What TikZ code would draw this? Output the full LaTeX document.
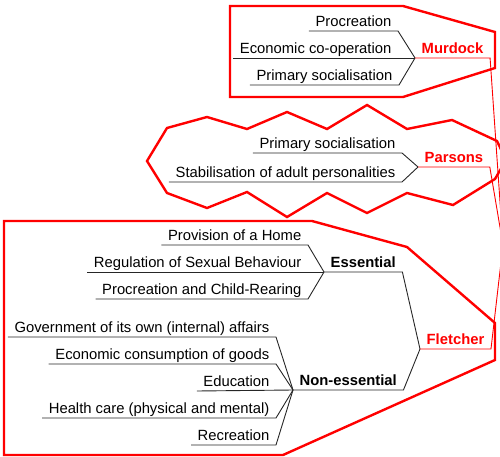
\documentclass[tikz,border=0pt]{standalone}
\usepackage{fontspec}
\setmainfont{Liberation Sans}
\begin{document}
\begin{tikzpicture}[x=1pt,y=-1pt,
  item/.style={anchor=south east,inner xsep=6.5pt,inner ysep=0.5pt,text height=11pt,text depth=3.5pt,font=\fontsize{14.8}{17}\selectfont},
  head/.style={anchor=south west,inner xsep=6.5pt,inner ysep=0.5pt,text height=11pt,text depth=3.5pt,font=\fontsize{14.8}{17}\selectfont\bfseries},
  rhead/.style={head,text=red},
  branch/.style={draw=black!85,line width=0.9pt},
  rbranch/.style={draw=red,line width=0.9pt},
  outline/.style={draw=red,line width=2.4pt,line join=miter}]
\useasboundingbox (0,0) rectangle (500,457);
% outlines
\draw[outline] (230,6) -- (403,6) -- (495,32) -- (495,68) -- (403,97) -- (230,97) -- cycle;
\draw[outline] (147,161) -- (167,128) -- (207,117) -- (247,129) -- (287,112) -- (327,129) -- (367,105) -- (407,129) -- (452,120) -- (497,141) -- (506,160) -- (495,179) -- (453,205) -- (407,193) -- (367,213) -- (327,193) -- (287,217) -- (247,192) -- (207,208) -- (167,193) -- cycle;
\draw[outline] (4,221) -- (312,221) -- (407,247) -- (495,323) -- (495,360) -- (283,455) -- (4,455) -- cycle;
% hubs
\coordinate (hub) at (503,245);
\coordinate (M) at (415,58);
\coordinate (P) at (418,167);
\coordinate (E) at (324,272);
\coordinate (N) at (293,390);
\coordinate (F) at (420,349);
% Murdock
\node[item] (m1) at (398,31) {Procreation};
\node[item] (m2) at (398,58) {Economic co-operation};
\node[item] (m3) at (399,85) {Primary socialisation};
\node[rhead] (mur) at (M) {Murdock};
\draw[branch] (m1.south west) -- (m1.south east) -- (M);
\draw[branch] (m2.south west) -- (M);
\draw[branch] (m3.south west) -- (m3.south east) -- (M);
\draw[rbranch] (M) -- (mur.south east) -- (hub);
% Parsons
\node[item] (p1) at (402,153) {Primary socialisation};
\node[item] (p2) at (402,182) {Stabilisation of adult personalities};
\node[rhead] (par) at (P) {Parsons};
\draw[branch] (p1.south west) -- (p1.south east) -- (P);
\draw[branch] (p2.south west) -- (p2.south east) -- (P);
\draw[rbranch] (P) -- (par.south east) -- (hub);
% Fletcher essential
\node[item] (e1) at (308,245) {Provision of a Home};
\node[item] (e2) at (308,272) {Regulation of Sexual Behaviour};
\node[item] (e3) at (308,299) {Procreation and Child-Rearing};
\node[head] (ess) at (E) {Essential};
\draw[branch] (e1.south west) -- (e1.south east) -- (E);
\draw[branch] (e2.south west) -- (E);
\draw[branch] (e3.south west) -- (e3.south east) -- (E);
% Fletcher non-essential
\node[item] (n1) at (276,337) {Government of its own (internal) affairs};
\node[item] (n2) at (276,364) {Economic consumption of goods};
\node[item] (n3) at (276,391) {Education};
\node[item] (n4) at (276,418) {Health care (physical and mental)};
\node[item] (n5) at (276,445) {Recreation};
\node[head] (non) at (N) {Non-essential};
\draw[branch] (n1.south west) -- (n1.south east) -- (N);
\draw[branch] (n2.south west) -- (n2.south east) -- (N);
\draw[branch] (n3.south west) -- (N);
\draw[branch] (n4.south west) -- (n4.south east) -- (N);
\draw[branch] (n5.south west) -- (n5.south east) -- (N);
% Fletcher
\node[rhead] (fle) at (F) {Fletcher};
\draw[branch] (E) -- (ess.south east) -- (F);
\draw[branch] (N) -- (non.south east) -- (F);
\draw[rbranch] (F) -- (fle.south east) -- (hub);
\end{tikzpicture}
\end{document}
